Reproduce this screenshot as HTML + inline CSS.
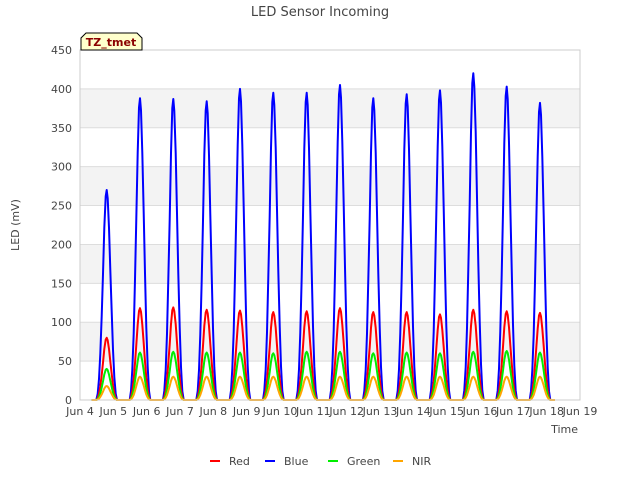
<!DOCTYPE html>
<html><head><meta charset="utf-8"><style>
body{margin:0;background:#fff;font-family:"Liberation Sans","DejaVu Sans",sans-serif}
</style></head><body>
<svg id="chart" width="640" height="480" xmlns="http://www.w3.org/2000/svg" font-family="DejaVu Sans, Liberation Sans, sans-serif">
<text x="320" y="16" text-anchor="middle" font-size="13" fill="#444">LED Sensor Incoming</text>
<text transform="translate(19,225) rotate(-90)" text-anchor="middle" font-size="11" fill="#444">LED (mV)</text>
<text x="578" y="433" text-anchor="end" font-size="11" fill="#444">Time</text>
<g id="grid"></g>
<g id="series"></g>
<g id="axes"></g>
<g>
<path d="M81,50 L81,38 L86,33 L137,33 L142,38 L142,50 Z" fill="#ffffcc" stroke="#000" stroke-width="1"/>
<text x="111" y="46" text-anchor="middle" font-size="11" font-weight="bold" fill="#8b0000">TZ_tmet</text>
</g>
<g id="legend"></g>
</svg>
<script>
const yTicks=[0,50,100,150,200,250,300,350,400,450];
const xTickLabels=["Jun 4","Jun 5","Jun 6","Jun 7","Jun 8","Jun 9","Jun 10","Jun 11","Jun 12","Jun 13","Jun 14","Jun 15","Jun 16","Jun 17","Jun 18","Jun 19"];
const seriesNames=["Red","Blue","Green","NIR"];
const seriesColors=["#ff0000","#0000ff","#00ee00","#ffa500"];
const redPeaks=[80,118,119,116,115,113,114,118,113,113,110,116,114,112];
const bluePeaks=[270,388,387,384,400,395,395,405,388,393,398,420,403,382];
const greenPeaks=[40,61,62,61,61,60,62,62,60,61,60,62,63,61];
const nirPeaks=[18,30,30,30,30,30,30,30,30,30,30,30,30,30];
const profileTimes=[0.35,0.49,0.53,0.57,0.61,0.65,0.69,0.73,0.77,0.80,0.83,0.87,0.91,0.95,0.99,1.03,1.07,1.11,1.25];
const profileShape=[0,0,0.03,0.1,0.22,0.4,0.6,0.82,0.97,1.0,0.96,0.82,0.62,0.42,0.24,0.11,0.03,0,0];
const X0=80,X1=580,Y0=400,Y1=50;
const xs=d=>X0+(X1-X0)*d/15;
const ys=v=>Y0-(Y0-Y1)*v/450;
const NS="http://www.w3.org/2000/svg";
function mk(t,a,p){const e=document.createElementNS(NS,t);for(const k in a)e.setAttribute(k,a[k]);p.appendChild(e);return e;}
const grid=document.getElementById('grid');
for(let i=0;i<yTicks.length-1;i++){
  if(i%2===1){const r=mk('rect',{x:X0,y:ys(yTicks[i+1]),width:X1-X0,height:ys(yTicks[i])-ys(yTicks[i+1]),fill:'#f3f3f3'},grid);
  }
}
yTicks.forEach(v=>{const l=mk('line',{x1:X0,x2:X1,y1:ys(v),y2:ys(v),stroke:'#dddddd','stroke-width':1},grid);
});
const axes=document.getElementById('axes');
const fr=mk('rect',{x:X0,y:Y1,width:X1-X0,height:Y0-Y1,fill:'none',stroke:'#cccccc'},axes);

yTicks.forEach(v=>{const t=mk('text',{x:X0-8,y:ys(v)+4,'text-anchor':'end','font-size':11,fill:'#444'},axes);t.textContent=v;
});
xTickLabels.forEach((s,i)=>{const t=mk('text',{x:xs(i),y:415,'text-anchor':'middle','font-size':11,fill:'#444'},axes);t.textContent=s;
});
const ser=document.getElementById('series');
const allPeaks=[redPeaks,bluePeaks,greenPeaks,nirPeaks];
const order=[1,0,2,3];
order.forEach(si=>{
  const pk=allPeaks[si];let d='';
  pk.forEach((p,day)=>{profileTimes.forEach((t,j)=>{const x=xs(day+t),y=ys(p*profileShape[j]);d+=(d?'L':'M')+x.toFixed(1)+','+y.toFixed(1);});});
  const path=mk('path',{d:d,fill:'none',stroke:seriesColors[si],'stroke-width':2,'stroke-linejoin':'round'},ser);
  
  
});
const lg=document.getElementById('legend');
const lx=[210,265,328,393];
seriesNames.forEach((n,i)=>{
  const g=mk('g',{},lg);
  
  
  mk('line',{x1:lx[i],x2:lx[i]+10,y1:461,y2:461,stroke:seriesColors[i],'stroke-width':2},g);
  const t=mk('text',{x:lx[i]+19,y:465,'font-size':11,fill:'#444'},g);t.textContent=n;
});
</script>
</body></html>
